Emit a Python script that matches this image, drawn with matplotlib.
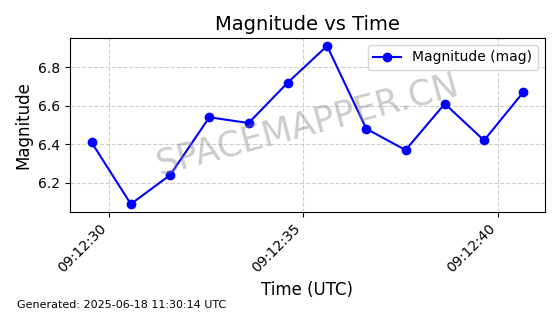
import matplotlib
matplotlib.use("Agg")
import matplotlib.pyplot as plt
import matplotlib.dates as mdates
from datetime import datetime

# observation times (seconds after 09:12:00 UTC) and magnitudes
seconds = [29.55, 30.56, 31.57, 32.58, 33.59, 34.60,
           35.61, 36.62, 37.63, 38.64, 39.65, 40.66]
magnitudes = [6.41, 6.09, 6.24, 6.54, 6.51, 6.72,
              6.91, 6.48, 6.37, 6.61, 6.42, 6.67]

base = datetime(2025, 6, 18, 9, 12, 0)
times = [base.replace(second=int(s), microsecond=int(round((s - int(s)) * 1e6)))
         for s in seconds]

fig, ax = plt.subplots(figsize=(5.6, 3.14), dpi=100)
ax.plot(times, magnitudes, marker='o', color='blue', label='Magnitude (mag)')
ax.set_title('Magnitude vs Time', fontsize=14)
ax.set_xlabel('Time (UTC)', fontsize=12)
ax.set_ylabel('Magnitude', fontsize=12)
ax.grid(True, linestyle='--', alpha=0.6)
ax.legend(loc='upper right')

ax.xaxis.set_major_locator(mdates.SecondLocator(bysecond=[0, 5, 10, 15, 20, 25, 30, 35, 40, 45, 50, 55]))
ax.xaxis.set_major_formatter(mdates.DateFormatter('%H:%M:%S'))
plt.setp(ax.get_xticklabels(), rotation=45, ha='right')

ax.text(0.5, 0.5, 'SPACEMAPPER.CN', transform=ax.transAxes, fontsize=25,
        color='gray', alpha=0.4, ha='center', va='center', rotation=15)

fig.text(0.03, 0.02, 'Generated: 2025-06-18 11:30:14 UTC', fontsize=8)

fig.subplots_adjust(left=0.125, right=0.973, top=0.879, bottom=0.325)
fig.savefig('out.png', dpi=100)
